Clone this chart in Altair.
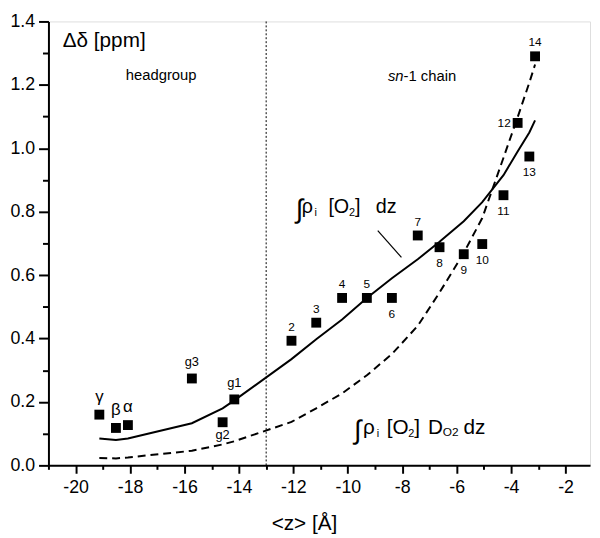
import altair as alt
import pandas as pd

FONT = "Liberation Sans, Arial, Helvetica, sans-serif"

# ---- data ----
pt_labels = ["γ", "β", "α", "g3", "g2", "g1", "2", "3", "4", "5", "6", "7",
             "8", "9", "10", "11", "12", "13", "14"]
pt_z = [-19.13, -18.52, -18.08, -15.73, -14.60, -14.17, -12.07, -11.16, -10.21,
        -9.30, -8.38, -7.43, -6.63, -5.74, -5.06, -4.28, -3.76, -3.33, -3.12]
pt_dd = [0.160, 0.118, 0.127, 0.274, 0.136, 0.208, 0.393, 0.450, 0.528,
         0.528, 0.528, 0.725, 0.688, 0.666, 0.698, 0.852, 1.080, 0.974, 1.290]
pt_place = ["up", "up", "up", "up", "down", "up", "up", "up", "up",
            "up", "down", "up", "down", "down", "down", "down", "left", "down", "up"]

solid_dd = [0.085, 0.080, 0.085, 0.133, 0.180, 0.205, 0.335, 0.398, 0.460,
            0.528, 0.590, 0.650, 0.705, 0.770, 0.830, 0.915, 0.990, 1.050, 1.088]
dashed_dd = [0.023, 0.022, 0.025, 0.046, 0.066, 0.076, 0.137, 0.180, 0.227,
             0.284, 0.351, 0.440, 0.545, 0.670, 0.780, 0.970, 1.098, 1.207, 1.264]

boundary_z = [-13]

x_ticks = list(range(-21, -1))
y_ticks = [round(i * 0.1, 1) for i in range(15)]

# annotation anchors (data coordinates)
headgroup_at = (-16.86, 1.216)
chain_at = (-7.95, 1.213)
flux_at = (-11.91, 0.796)
flux_d_at = (-9.77, 0.0995)
leader = (-8.90, 0.740, -8.03, 0.656)

# ---- tables ----
pts = pd.DataFrame({"z": pt_z, "dd": pt_dd, "label": pt_labels, "place": pt_place})
curves = pd.DataFrame({"z": pt_z, "solid": solid_dd, "dashed": dashed_dd})

x_axis = alt.Axis(
    values=x_ticks,
    labelExpr="datum.value % 2 === 0 ? '' + datum.value : ''",
    tickSize={"condition": {"test": "datum.value % 2 === 0", "value": 8}, "value": 4},
    title="<z> [Å]", titleX=259, titleY=65, titleAlign="center",
    titleBaseline="alphabetic", titleFontSize=21, titleFontWeight="normal",
    titleFont=FONT, titleColor="black",
    labelFont=FONT, labelFontSize=18, labelPadding=6, labelColor="black",
    labelFlush=False, labelOverlap=False, grid=False,
    domainColor="black", domainWidth=2, tickColor="black", tickWidth=2,
)
y_axis = alt.Axis(
    values=y_ticks,
    labelExpr="round(datum.value * 10) % 2 === 0 ? format(datum.value, '.1f') : ''",
    tickSize={"condition": {"test": "round(datum.value * 10) % 2 === 0", "value": 10}, "value": 6},
    title="Δδ [ppm]", titleAngle=0, titleAlign="left", titleBaseline="alphabetic",
    titleX=14, titleY=25, titleFontSize=21, titleFontWeight="normal",
    titleFont=FONT, titleColor="black",
    labelFont=FONT, labelFontSize=18, labelPadding=4, labelColor="black",
    labelFlush=False, labelOverlap=False, grid=False,
    domainColor="black", domainWidth=2, tickColor="black", tickWidth=2,
)

X = alt.X("z:Q", scale=alt.Scale(domain=[-21, -1.1], nice=False, zero=False), axis=x_axis)
Y = alt.Y("dd:Q", scale=alt.Scale(domain=[0, 1.4], nice=False, zero=False), axis=y_axis)

solid = alt.Chart(curves).mark_line(color="black", strokeWidth=2).encode(
    x=X, y=alt.Y("solid:Q", scale=alt.Scale(domain=[0, 1.4], nice=False, zero=False), axis=y_axis))
dashed = alt.Chart(curves).mark_line(color="black", strokeWidth=2, strokeDash=[8, 5]).encode(
    x=X, y=alt.Y("dashed:Q", scale=alt.Scale(domain=[0, 1.4], nice=False, zero=False), axis=y_axis))

vline = alt.Chart(pd.DataFrame({"z": boundary_z})).mark_rule(
    color="black", strokeWidth=1, strokeDash=[2, 2]).encode(x=X)

points = alt.Chart(pts).mark_square(size=100, color="black", opacity=1).encode(x=X, y=Y)


def label_layer(test, size, dy, dx=0, align="center"):
    return alt.Chart(pts).transform_filter(test).mark_text(
        font=FONT, fontSize=size, color="black", baseline="alphabetic",
        align=align, dx=dx, dy=dy).encode(x=X, y=Y, text="label:N")


is_greek = "indexof(['γ','β','α'], datum.label) >= 0"
is_g = "indexof(['g1','g2','g3'], datum.label) >= 0"
lab_greek = label_layer(is_greek, 17, -13)
lab_g_up = label_layer(f"{is_g} && datum.place === 'up'", 13, -13)
lab_g_down = label_layer(f"{is_g} && datum.place === 'down'", 13, 17)
num = f"!({is_greek}) && !({is_g})"
lab_up = label_layer(f"{num} && datum.place === 'up'", 12, -10)
lab_down = label_layer(f"{num} && datum.place === 'down'", 12, 20)
lab_left = label_layer(f"{num} && datum.place === 'left'", 12, 4, dx=-7, align="right")


def piece(at, txt, dx, dy=0, size=21, style="normal", align="left"):
    d = pd.DataFrame({"z": [at[0]], "dd": [at[1]], "t": [txt]})
    return alt.Chart(d).mark_text(
        font=FONT, fontSize=size, fontStyle=style, color="black",
        align=align, baseline="alphabetic", dx=dx, dy=dy).encode(x=X, y=Y, text="t:N")


texts = [
    piece(headgroup_at, "headgroup", 0, size=15, align="center"),
    piece(chain_at, "sn", 0, size=15, style="italic", align="right"),
    piece(chain_at, "-1 chain", 0, size=15),
    # ∫ρi [O2] dz
    piece(flux_at, "∫", 0, dy=5, size=27),
    piece(flux_at, "ρ", 6, size=20),
    piece(flux_at, "i", 19, dy=3, size=11),
    piece(flux_at, "[O", 33, size=20),
    piece(flux_at, "2", 54, dy=3, size=11),
    piece(flux_at, "]", 60, size=20),
    piece(flux_at, "dz", 81, size=20),
    # ∫ρi [O2] D_O2 dz
    piece(flux_d_at, "∫", 0, dy=5, size=27),
    piece(flux_d_at, "ρ", 9, size=21),
    piece(flux_d_at, "i", 23, dy=3, size=11),
    piece(flux_d_at, "[O", 33, size=21),
    piece(flux_d_at, "2", 55, dy=3, size=11),
    piece(flux_d_at, "]", 61, size=21),
    piece(flux_d_at, "D", 75, size=21),
    piece(flux_d_at, "O2", 90, dy=2, size=12),
    piece(flux_d_at, "dz", 111, size=21),
]

lead = alt.Chart(pd.DataFrame({"z": [leader[0]], "dd": [leader[1]],
                               "z2": [leader[2]], "dd2": [leader[3]]})).mark_rule(
    color="black", strokeWidth=1.2).encode(x=X, y=Y, x2="z2:Q", y2="dd2:Q")

chart = alt.layer(
    vline, dashed, solid, points,
    lab_greek, lab_g_up, lab_g_down, lab_up, lab_down, lab_left,
    lead, *texts
).properties(
    width=549, height=450,
    autosize=alt.AutoSizeParams(type="none"),
    padding={"left": 41, "top": 10, "right": 2, "bottom": 70},
).configure_view(stroke="black", strokeWidth=1.5).configure(background="white")

chart.save("out.html", embed_options={"renderer": "svg", "actions": False})
